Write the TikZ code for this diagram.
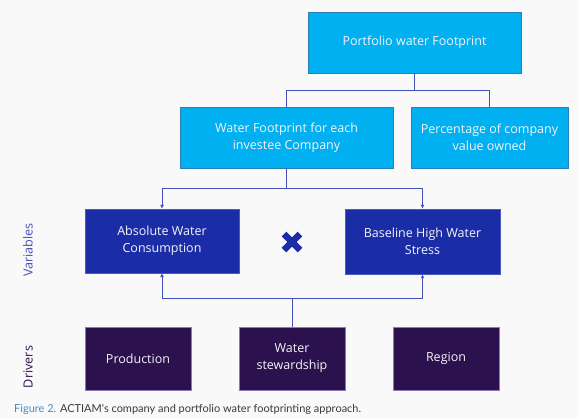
\documentclass[tikz,border=0pt]{standalone}
\usepackage{fontspec}
\setmainfont{Open Sans}
\newfontfamily\capfont{Lato}
\usetikzlibrary{arrows.meta}

\definecolor{pagebg}{HTML}{FAF9F9}
\definecolor{skyblue}{HTML}{00B0F0}
\definecolor{skyedge}{HTML}{2A7FB5}
\definecolor{varblue}{HTML}{1B2DA6}
\definecolor{varedge}{HTML}{4A5AC0}
\definecolor{drvpurple}{HTML}{2B124E}
\definecolor{drvedge}{HTML}{8A78B8}
\definecolor{linkblue}{HTML}{4252B8}
\definecolor{figblue}{HTML}{3A8FC8}
\definecolor{captext}{HTML}{3A3A3A}
\definecolor{boxtext}{HTML}{F4F4F8}

\tikzset{
  topbox/.style={draw=skyedge, fill=skyblue, text=boxtext, align=center,
    font=\fontsize{12.5}{17}\selectfont, inner sep=0pt},
  varbox/.style={draw=varedge, fill=varblue, text=boxtext, align=center,
    font=\fontsize{12.5}{17}\selectfont, inner sep=0pt},
  drvbox/.style={draw=drvedge, fill=drvpurple, text=boxtext, align=center,
    font=\fontsize{12.5}{17}\selectfont, inner sep=0pt,
    minimum width=106pt, minimum height=63pt},
  link/.style={draw=linkblue, line width=1pt},
  linkarrow/.style={link, -{Latex[length=4pt,width=4pt]}},
  sidelabel/.style={rotate=90, font=\fontsize{12.6}{14}\selectfont}
}

\begin{document}
\begin{tikzpicture}[x=1pt, y=-1pt]

  % --- Frame ---
  \useasboundingbox (0,0) rectangle (578,418);
  \fill[pagebg] (0,0) rectangle (578,418);

  % --- Portfolio level ---
  \node[topbox, minimum width=213pt, minimum height=61pt] (port) at (414.5,42.5)
    {Portfolio water Footprint};
  \node[topbox, minimum width=213pt, minimum height=61pt] (wfc) at (286.5,137.5)
    {Water Footprint for each\\investee Company};
  \node[topbox, minimum width=157pt, minimum height=61pt] (pct) at (489.5,137.5)
    {Percentage of company\\value owned};

  % --- Variables ---
  \node[varbox, minimum width=154pt, minimum height=64pt] (awc) at (162,241)
    {Absolute Water\\Consumption};
  \node[varbox, minimum width=155pt, minimum height=65pt] (bhws) at (422.5,241.5)
    {Baseline High Water\\Stress};
  \coordinate (times) at (292,242);
  \draw[varblue, line width=6.5pt] ([shift={(-8,-8)}]times) -- ([shift={(8,8)}]times);
  \draw[varblue, line width=6.5pt] ([shift={(-8,8)}]times) -- ([shift={(8,-8)}]times);

  % --- Drivers ---
  \node[drvbox] (prod) at (138,358.5) {Production};
  \node[drvbox] (stew) at (292,358.5) {Water\\stewardship};
  \node[drvbox] (reg) at (446,358.5) {Region};

  % --- Connectors ---
  \foreach \t in {wfc,pct} \draw[link] (port.south) -- ++(0,17) -| (\t.north);
  \foreach \t in {awc,bhws} \draw[linkarrow] (wfc.south) -- ++(0,20) -| (\t.north);
  \foreach \t in {awc,bhws} \draw[linkarrow] (stew.north) -- ++(0,-28) -| (\t.south);

  % --- Side labels ---
  \node[sidelabel, text=linkblue] (varlbl) at (28,250) {Variables};
  \node[sidelabel, text=drvpurple] (drvlbl) at (28,367) {Drivers};

  % --- Caption ---
  \node[anchor=west, inner sep=0pt, font=\capfont\fontsize{11}{13}\selectfont, text=captext]
    (cap) at (14,409) {\textcolor{figblue}{Figure 2.} ACTIAM's company and portfolio water footprinting approach.};

\end{tikzpicture}
\end{document}
